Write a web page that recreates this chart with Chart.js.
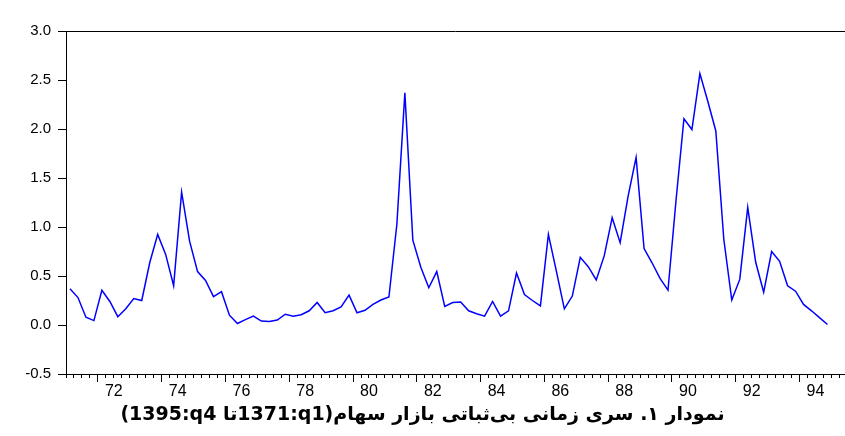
<!DOCTYPE html>
<html>
<head>
<meta charset="utf-8">
<script src="https://cdn.jsdelivr.net/npm/chart.js@4/dist/chart.umd.min.js"></script>
<style>
    body { margin: 0; background: #ffffff; }
    #wrap { width: 845px; height: 436px; }
</style>
</head>
<body>
<div id="wrap"><canvas id="volatilidad" width="845" height="436"></canvas></div>
<script>
// serie trimestral 1371:q1 ... (indice 0 = 1371q1)
const startYear = 1371;
const volatility = [
    0.37, 0.28, 0.08, 0.045, 0.355, 0.24, 0.085, 0.165,
    0.27, 0.25, 0.635, 0.925, 0.72, 0.40, 1.355, 0.855,
    0.545, 0.455, 0.29, 0.34, 0.10, 0.015, 0.055, 0.09,
    0.04, 0.035, 0.05, 0.11, 0.09, 0.105, 0.145, 0.23,
    0.125, 0.145, 0.185, 0.305, 0.125, 0.15, 0.21, 0.255,
    0.285, 1.03, 2.37, 0.865, 0.59, 0.38, 0.545, 0.19,
    0.23, 0.235, 0.145, 0.115, 0.09, 0.24, 0.09, 0.145,
    0.53, 0.31, 0.25, 0.195, 0.925, 0.55, 0.165, 0.295,
    0.69, 0.595, 0.46, 0.705, 1.095, 0.84, 1.315, 1.71,
    0.78, 0.635, 0.475, 0.355, 1.265, 2.105, 1.995, 2.565,
    2.28, 1.98, 0.875, 0.255, 0.465, 1.2, 0.64, 0.335,
    0.75, 0.65, 0.40, 0.345, 0.21, 0.145, 0.075, 0.005
];
const yTicks = [-0.5, 0.0, 0.5, 1.0, 1.5, 2.0, 2.5, 3.0];
const xTickYears = [72, 74, 76, 78, 80, 82, 84, 86, 88, 90, 92, 94];
// \u2066 ... \u2069 = aislar los tramos latinos para que salgan "1371:q1"
const caption = "نمودار ۱. سری زمانی بی‌ثباتی بازار سهام(\u20661371:q1\u2069تا \u20661395:q4\u2069)";

const xMin = -0.5;
const xMax = 97.2;

const points = volatility.map((v, i) => ({ x: i, y: v }));

// marco superior + titulo de abajo
const frameAndCaption = {
    id: "frameAndCaption",
    afterDraw(chart) {
        const ctx = chart.ctx;
        const a = chart.chartArea;
        ctx.save();
        ctx.strokeStyle = "#000000";
        ctx.lineWidth = 1;
        ctx.beginPath();
        ctx.moveTo(a.left, Math.round(a.top) + 0.5);
        ctx.lineTo(chart.width, Math.round(a.top) + 0.5);
        ctx.stroke();

        ctx.fillStyle = "#000000";
        ctx.font = "bold 19px 'DejaVu Sans'";
        ctx.textAlign = "center";
        ctx.textBaseline = "middle";
        ctx.direction = "rtl";
        ctx.fillText(caption, chart.width / 2, 415);
        ctx.restore();
    },
};

const ctxVol = document.getElementById("volatilidad").getContext("2d");

const myChart = new Chart(ctxVol, {
    type: "line",
    data: {
        datasets: [
            {
                label: "volatility",
                data: points,
                borderColor: "#0000ff",
                borderWidth: 1.5,
                pointRadius: 0,
                tension: 0,
                fill: false,
            },
        ],
    },
    options: {
        responsive: false,
        animation: false,
        layout: { padding: { left: 0, right: 0, top: 31, bottom: 0 } },
        plugins: {
            legend: { display: false },
            tooltip: { enabled: false },
        },
        scales: {
            x: {
                type: "linear",
                position: "bottom",
                min: xMin,
                max: xMax,
                afterBuildTicks: (scale) => {
                    const t = [];
                    for (let k = 0; k - 0.5 <= xMax; k++) t.push({ value: k - 0.5 });
                    scale.ticks = t;
                },
                afterFit: (scale) => { scale.height = 8; },
                ticks: { display: false, autoSkip: false },
                grid: {
                    drawOnChartArea: false,
                    drawTicks: true,
                    tickLength: 8,
                    tickColor: "#000000",
                    tickWidth: 1,
                    tickBorderDash: (c) => {
                        const k = c.tick ? Math.round(c.tick.value + 0.5) : 0;
                        return k % 8 === 4 ? [] : [3, 30];
                    },
                },
                border: { display: true, color: "#000000", width: 1 },
            },
            xl: {
                type: "linear",
                position: "bottom",
                min: xMin,
                max: xMax,
                afterBuildTicks: (scale) => {
                    scale.ticks = xTickYears.map((y) => ({
                        value: (1300 + y - startYear) * 4 + 1.5,
                    }));
                },
                afterFit: (scale) => { scale.height = 54; },
                ticks: {
                    autoSkip: false,
                    maxRotation: 0,
                    padding: 0,
                    color: "#000000",
                    font: { family: "'Liberation Sans', Arial", size: 16 },
                    callback: (v) => String(Math.floor((v - 1.5) / 4) + startYear - 1300),
                },
                grid: { display: false, drawTicks: false },
                border: { display: false },
            },
            y: {
                min: -0.5,
                max: 3.0,
                afterBuildTicks: (scale) => {
                    scale.ticks = yTicks.map((v) => ({ value: v }));
                },
                afterFit: (scale) => { scale.width = 66; },
                ticks: {
                    padding: 7,
                    color: "#000000",
                    font: { family: "'Liberation Sans', Arial", size: 15 },
                    callback: (v) => v.toFixed(1),
                },
                grid: {
                    drawOnChartArea: false,
                    drawTicks: true,
                    tickLength: 8,
                    tickColor: "#000000",
                },
                border: { display: true, color: "#000000", width: 1 },
            },
        },
    },
    plugins: [frameAndCaption],
});
</script>
</body>
</html>
